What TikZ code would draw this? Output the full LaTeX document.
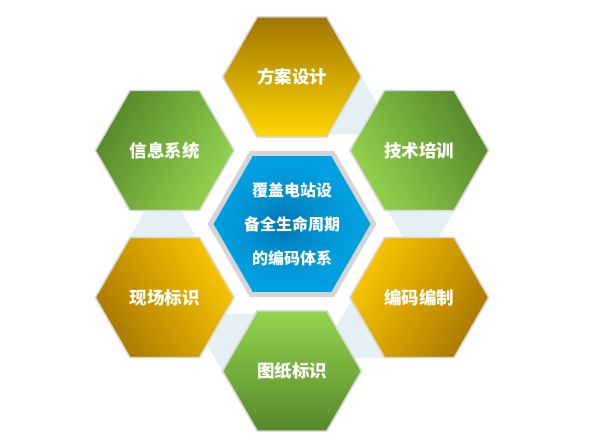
\documentclass[tikz,border=0pt]{standalone}
\usepackage{fontspec}
\newfontfamily\cjk{Noto Sans CJK SC}
\usetikzlibrary{shapes.geometric}
\definecolor{golddark}{HTML}{A07600}
\definecolor{goldlight}{HTML}{FFD600}
\definecolor{ydark}{HTML}{AA7800}
\definecolor{ylight}{HTML}{FAC600}
\definecolor{gdark}{HTML}{56882A}
\definecolor{glight}{HTML}{94D44E}
\definecolor{pale}{HTML}{E4F0F3}
\definecolor{rim}{HTML}{DADADA}
\definecolor{ring}{HTML}{D5D5D5}
\definecolor{bdark}{HTML}{0072B0}
\definecolor{bmid}{HTML}{008ACA}
\definecolor{bmid2}{HTML}{009EDE}
\definecolor{blight}{HTML}{00A5E6}
\pgfdeclareradialshading{bluehex}{\pgfpoint{-3bp}{0bp}}{color(0bp)=(bdark); color(8bp)=(bmid); color(20bp)=(bmid2); color(32bp)=(blight); color(50bp)=(blight)}
\begin{document}
\begin{tikzpicture}[x=1pt,y=-1pt,
  hexo/.style={regular polygon, regular polygon sides=6, minimum size=139pt, inner sep=0pt, draw=rim, line width=1.6pt},
  lbl/.style={text=white, font=\cjk\bfseries\fontsize{17.5pt}{20pt}\selectfont},
  ctext/.style={text=white, align=center, font=\cjk\bfseries\fontsize{16pt}{34pt}\selectfont},
  tri/.style={fill=pale}]
\useasboundingbox (0,0) rectangle (596,446);
% pale connector triangles
\fill[tri] (358.8,72.3) -- (394.6,134.3) -- (323.0,134.3) -- cycle;
\fill[tri] (421,268) -- (385.2,206) -- (456.8,206) -- cycle;
\fill[tri] (318.4,357.7) -- (390.0,357.7) -- (354.2,295.7) -- cycle;
\fill[tri] (189.4,313.7) -- (225.2,375.7) -- (261.0,313.7) -- cycle;
\fill[tri] (163,180) -- (127.2,242) -- (198.8,242) -- cycle;
% outer hexagons
\node[hexo, top color=golddark, bottom color=goldlight] (n1) at (292,77) {};
\node[hexo, top color=gdark, bottom color=glight, shading angle=-60] (n2) at (419.3,150.5) {};
\node[hexo, top color=ydark, bottom color=ylight, shading angle=-120] (n3) at (419.3,297.5) {};
\node[hexo, top color=gdark, bottom color=glight, shading angle=180] (n4) at (292,371) {};
\node[hexo, top color=ydark, bottom color=ylight, shading angle=120] (n5) at (164.7,297.5) {};
\node[hexo, top color=gdark, bottom color=glight, shading angle=60] (n6) at (164.7,150.5) {};
% centre hexagon
\node[regular polygon, regular polygon sides=6, minimum size=163pt, inner sep=0pt, draw=ring, line width=5pt, shading=bluehex] (c) at (292,224) {};
% labels
\node[lbl] (t1) at (n1) {方案设计};
\node[lbl] (t2) at (n2) {技术培训};
\node[lbl] (t3) at (n3) {编码编制};
\node[lbl] (t4) at (n4) {图纸标识};
\node[lbl] (t5) at (n5) {现场标识};
\node[lbl] (t6) at (n6) {信息系统};
\node[ctext] (ct) at (c) {覆盖电站设\\备全生命周期\\的编码体系};
\end{tikzpicture}
\end{document}
